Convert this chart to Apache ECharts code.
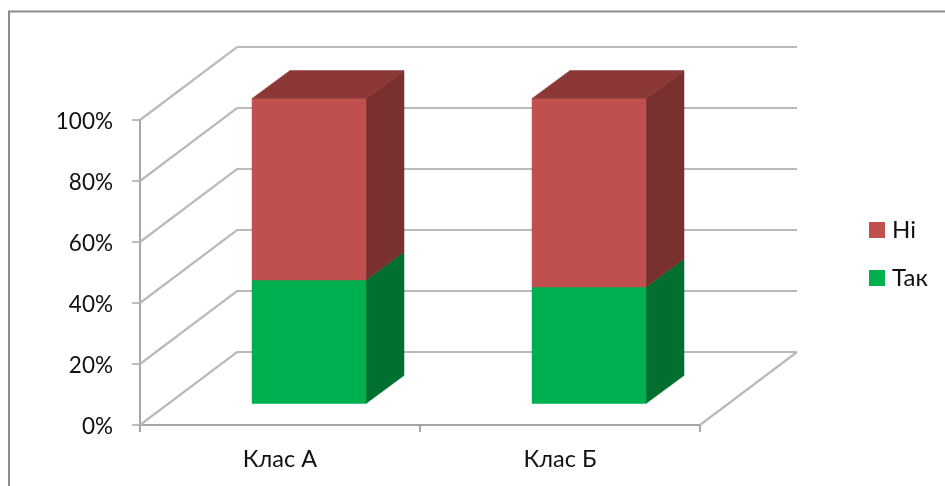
<!DOCTYPE html>
<html>
<head>
<meta charset="utf-8">
<style>html,body{margin:0;padding:0;background:#fff}#chart{width:945px;height:486px}</style>
<script src="https://cdn.jsdelivr.net/npm/echarts@6/dist/echarts.min.js"></script>
</head>
<body>
<div id="chart"></div>
<script>
// Share of answers per class, in percent
const categories = ['Клас А', 'Клас Б'];
const tak = [40.5, 38.2];
const ni = [59.5, 61.8];
const yTicks = [0, 20, 40, 60, 80, 100];

// Oblique projection of the depth axis, in pixels
const WALL_DX = 97, WALL_DY = -73;
const BAR_GAP_DX = 29, BAR_GAP_DY = -21.5;
const BAR_DX = 38, BAR_DY = -28;
const BAR_WIDTH = 114;

function shade(points, fill) {
  return { type: 'polygon', shape: { points }, style: { fill, stroke: fill, lineWidth: 0.5 } };
}

// One block of a stacked bar: front face, right side and, for the topmost one, a lid
function blockRenderer(sideColor, lidColor) {
  return function (params, api) {
    const idx = api.value(0);
    const low = api.coord([idx, api.value(1)]);
    const high = api.coord([idx, api.value(2)]);
    const x0 = low[0] + BAR_GAP_DX - BAR_WIDTH / 2;
    const x1 = x0 + BAR_WIDTH;
    const yLow = low[1] + BAR_GAP_DY;
    const yHigh = high[1] + BAR_GAP_DY;
    const children = [
      shade([[x1, yLow], [x1 + BAR_DX, yLow + BAR_DY], [x1 + BAR_DX, yHigh + BAR_DY], [x1, yHigh]], sideColor),
      shade([[x0, yLow], [x1, yLow], [x1, yHigh], [x0, yHigh]], api.visual('color'))
    ];
    if (lidColor) {
      children.push(shade([[x0, yHigh], [x1, yHigh], [x1 + BAR_DX, yHigh + BAR_DY], [x0 + BAR_DX, yHigh + BAR_DY]], lidColor));
    }
    return { type: 'group', children };
  };
}

// Side wall, back wall and floor edge for every value tick
function wallRenderer(params, api) {
  const box = params.coordSys;
  const y = api.coord([0, api.value(0)])[1];
  const left = box.x, right = box.x + box.width;
  const line = { stroke: '#bababa', lineWidth: 2.2, fill: null };
  const children = [{
    type: 'polyline',
    shape: { points: [[left, y], [left + WALL_DX, y + WALL_DY], [right + WALL_DX, y + WALL_DY]] },
    style: line
  }];
  if (api.value(0) === 0) {
    children.push({
      type: 'line',
      shape: { x1: right, y1: y, x2: right + WALL_DX, y2: y + WALL_DY },
      style: line
    });
  }
  return { type: 'group', children };
}

const takBlocks = categories.map((c, i) => [i, 0, tak[i]]);
const niBlocks = categories.map((c, i) => [i, tak[i], tak[i] + ni[i]]);

const chart = echarts.init(document.getElementById('chart'), null, { renderer: 'canvas' });
chart.setOption({
  animation: false,
  backgroundColor: '#fff',
  textStyle: { fontFamily: 'Lato, "Open Sans", sans-serif' },
  grid: { left: 140, right: 245, top: 120, bottom: 61 },
  legend: {
    data: ['Ні', 'Так'],
    orient: 'vertical',
    left: 869,
    top: 218,
    padding: 0,
    icon: 'rect',
    itemWidth: 16,
    itemHeight: 16,
    itemGap: 24,
    textStyle: { fontSize: 24, color: '#111', padding: [0, 0, 0, 2] }
  },
  xAxis: {
    type: 'category',
    data: categories,
    axisLine: { lineStyle: { color: '#a6a6a6', width: 2 } },
    axisTick: { show: true, length: 7, alignWithLabel: false, lineStyle: { color: '#8c8c8c', width: 1.5 } },
    axisLabel: { fontSize: 23.5, color: '#111', margin: 22 }
  },
  yAxis: {
    type: 'value',
    min: 0,
    max: 100,
    interval: 20,
    axisLine: { show: true, lineStyle: { color: '#a6a6a6', width: 2 } },
    axisTick: { show: true, length: 8, lineStyle: { color: '#a6a6a6', width: 1.5 } },
    axisLabel: {
      color: '#111',
      margin: 27,
      formatter: '{pct|{value}%}',
      rich: { pct: { fontSize: 22.5, color: '#111', padding: [4, 0, 0, 0] } }
    },
    splitLine: { show: false }
  },
  series: [
    {
      name: 'walls',
      type: 'custom',
      clip: false,
      z: 1,
      silent: true,
      encode: { y: 0 },
      data: yTicks.map(v => [v]),
      renderItem: wallRenderer
    },
    {
      name: 'Так',
      type: 'custom',
      clip: false,
      z: 2,
      itemStyle: { color: '#00b050' },
      encode: { x: 0, y: [1, 2] },
      data: takBlocks,
      renderItem: blockRenderer('#006f30', null)
    },
    {
      name: 'Ні',
      type: 'custom',
      clip: false,
      z: 3,
      itemStyle: { color: '#c0504d' },
      encode: { x: 0, y: [1, 2] },
      data: niBlocks,
      renderItem: blockRenderer('#7a302e', '#8c3836')
    }
  ],
  graphic: [{
    type: 'polyline',
    silent: true,
    shape: { points: [[9, 486], [9, 11.5], [945, 11.5]] },
    style: { stroke: '#8c8c8c', lineWidth: 2, fill: null }
  }]
});
</script>
</body>
</html>
